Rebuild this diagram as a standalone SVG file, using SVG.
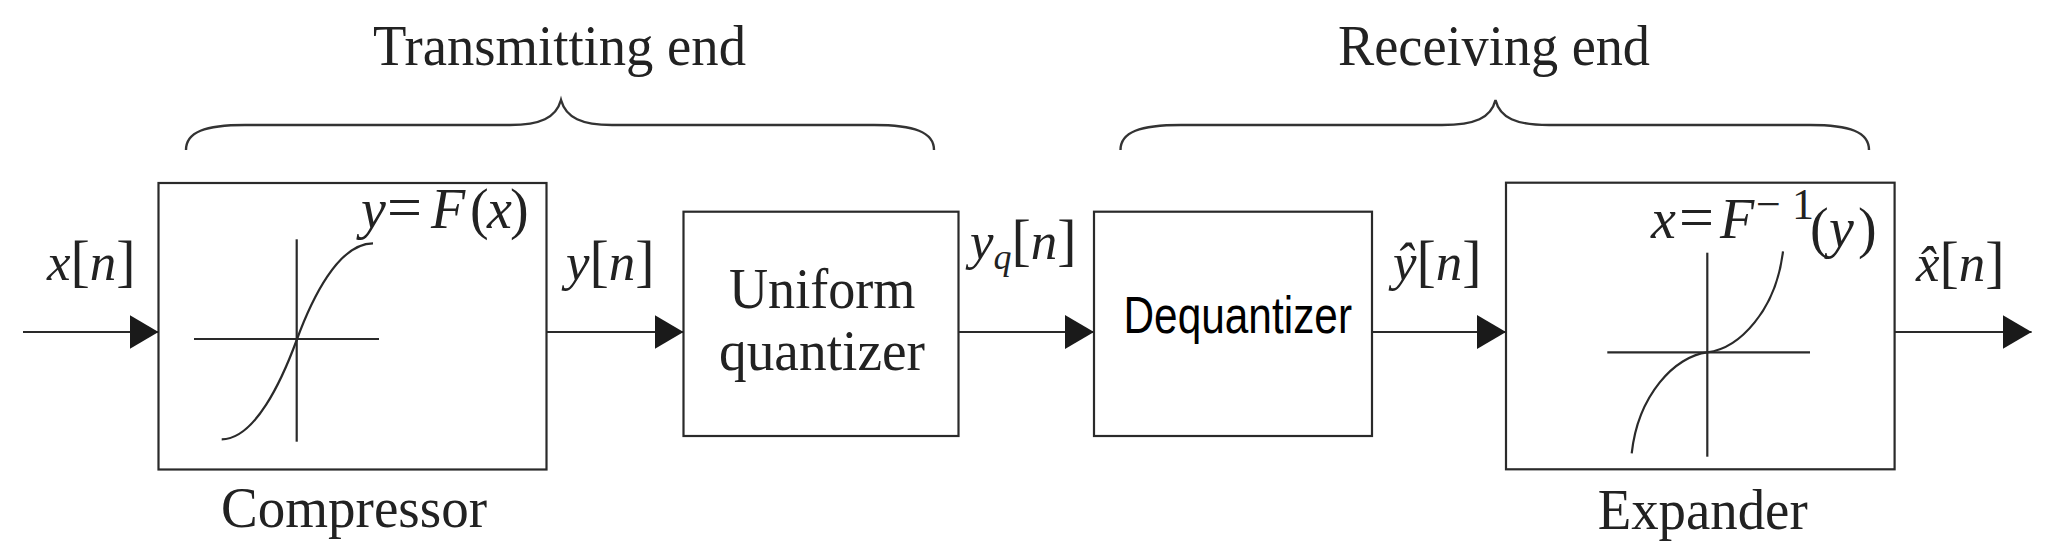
<svg xmlns="http://www.w3.org/2000/svg" width="2050" height="560" viewBox="0 0 2050 560">
<defs>
<style>
.box{fill:#fff;stroke:#2a2a2a;stroke-width:2.2}
.ln{fill:none;stroke:#2a2a2a;stroke-width:2.2}
.brace{fill:none;stroke:#333;stroke-width:2.4}
.curve{fill:none;stroke:#2a2a2a;stroke-width:2.2}
.serif{font-family:"Liberation Serif","Times New Roman",serif;fill:#222}
.big{font-size:56px}
.lbl{font-size:53px}
.it{font-style:italic}
.br{font-size:58px;font-style:normal}
.math{font-size:56px}
.eq{font-size:62px;font-style:normal}
.sup{font-size:44px;font-style:normal}
.sub{font-size:36px;font-style:italic}
.sans{font-family:"Liberation Sans Narrow","Liberation Sans",Arial,sans-serif;fill:#000;font-size:52px}
</style>
<marker id="ah" markerUnits="userSpaceOnUse" markerWidth="29" markerHeight="34" refX="29" refY="17" orient="auto"><path d="M0,0 L29,17 L0,34 Z" fill="#1a1a1a"/></marker>
</defs>
<rect width="2050" height="560" fill="#fff"/>

<g id="transmitting-end">
<path class="brace" d="M186,150 C186,132 205,125 245,125 L510,125 C540,125 556,118 561,100 C566,118 582,125 612,125 L874,125 C914,125 934,132 934,150"/>
<text class="serif big" x="373" y="65" textLength="373" lengthAdjust="spacingAndGlyphs">Transmitting end</text>
</g>

<g id="receiving-end">
<path class="brace" d="M1120.5,150 C1120.5,132 1140,125 1181,125 L1442,125 C1475,125 1491,118 1495.5,100 C1500,118 1516,125 1549,125 L1810,125 C1850,125 1869,132 1869,150"/>
<text class="serif big" x="1338" y="65" textLength="312" lengthAdjust="spacingAndGlyphs">Receiving end</text>
</g>

<g id="compressor">
<rect class="box" x="158.5" y="183" width="388" height="286.5"/>
<line class="ln" x1="194" y1="339" x2="379" y2="339"/>
<line class="ln" x1="296.7" y1="239.3" x2="296.7" y2="441.7"/>
<path class="curve" d="M221.7,439.3 C255,439.3 282,380 296.7,340 S338,243.3 373,243.3"/>
<text class="serif math" y="228"><tspan class="it" x="361">y</tspan><tspan class="eq" x="387">=</tspan><tspan class="it" x="431">F</tspan><tspan x="470">(</tspan><tspan class="it" x="487">x</tspan><tspan x="510">)</tspan></text>
<text class="serif big" x="221" y="527" textLength="266" lengthAdjust="spacingAndGlyphs">Compressor</text>
</g>

<g id="uniform-quantizer">
<rect class="box" x="683.5" y="211.7" width="275" height="224.3"/>
<text class="serif big" x="729" y="308" textLength="186.5" lengthAdjust="spacingAndGlyphs">Uniform</text>
<text class="serif big" x="719" y="370" textLength="206" lengthAdjust="spacingAndGlyphs">quantizer</text>
</g>

<g id="dequantizer">
<rect class="box" x="1094" y="211.7" width="278" height="224.3"/>
<text class="sans" x="1123.5" y="333" textLength="228.5" lengthAdjust="spacingAndGlyphs">Dequantizer</text>
</g>

<g id="expander">
<rect class="box" x="1506" y="182.7" width="388.6" height="286.6"/>
<line class="ln" x1="1607.3" y1="352.3" x2="1810" y2="352.3"/>
<line class="ln" x1="1707.3" y1="252.7" x2="1707.3" y2="456.7"/>
<path class="curve" d="M1631.7,453.3 C1638,395 1675,356 1707.3,352.3 S1776,310 1783,251.3"/>
<text class="serif math"><tspan class="it" x="1651" y="238">x</tspan><tspan class="eq" x="1679" y="238">=</tspan><tspan class="it" x="1720" y="238">F</tspan><tspan class="sup" x="1756" y="219">−</tspan><tspan class="sup" x="1792" y="219">1</tspan><tspan x="1810" y="247">(</tspan><tspan class="it" x="1829" y="247">y</tspan><tspan x="1858" y="247">)</tspan></text>
<text class="serif big" x="1597.7" y="529" textLength="210" lengthAdjust="spacingAndGlyphs">Expander</text>
</g>

<g id="connectors">
<line class="ln" x1="23" y1="332" x2="158.5" y2="332" marker-end="url(#ah)"/>
<line class="ln" x1="546.5" y1="332" x2="683.5" y2="332" marker-end="url(#ah)"/>
<line class="ln" x1="958.5" y1="332" x2="1094" y2="332" marker-end="url(#ah)"/>
<line class="ln" x1="1372" y1="332" x2="1506" y2="332" marker-end="url(#ah)"/>
<line class="ln" x1="1894.6" y1="332" x2="2031.6" y2="332" marker-end="url(#ah)"/>
<text class="serif lbl" x="47" y="280"><tspan class="it">x</tspan><tspan class="br">[</tspan><tspan class="it">n</tspan><tspan class="br">]</tspan></text>
<text class="serif lbl" x="566" y="280"><tspan class="it">y</tspan><tspan class="br">[</tspan><tspan class="it">n</tspan><tspan class="br">]</tspan></text>
<text class="serif lbl" x="970" y="259"><tspan class="it">y</tspan><tspan class="sub" dy="10">q</tspan><tspan class="br" dy="-10">[</tspan><tspan class="it">n</tspan><tspan class="br">]</tspan></text>
<text class="serif lbl" x="1393" y="280"><tspan class="it">ŷ</tspan><tspan class="br">[</tspan><tspan class="it">n</tspan><tspan class="br">]</tspan></text>
<text class="serif lbl" x="1916" y="281"><tspan class="it">x̂</tspan><tspan class="br">[</tspan><tspan class="it">n</tspan><tspan class="br">]</tspan></text>
</g>
</svg>
